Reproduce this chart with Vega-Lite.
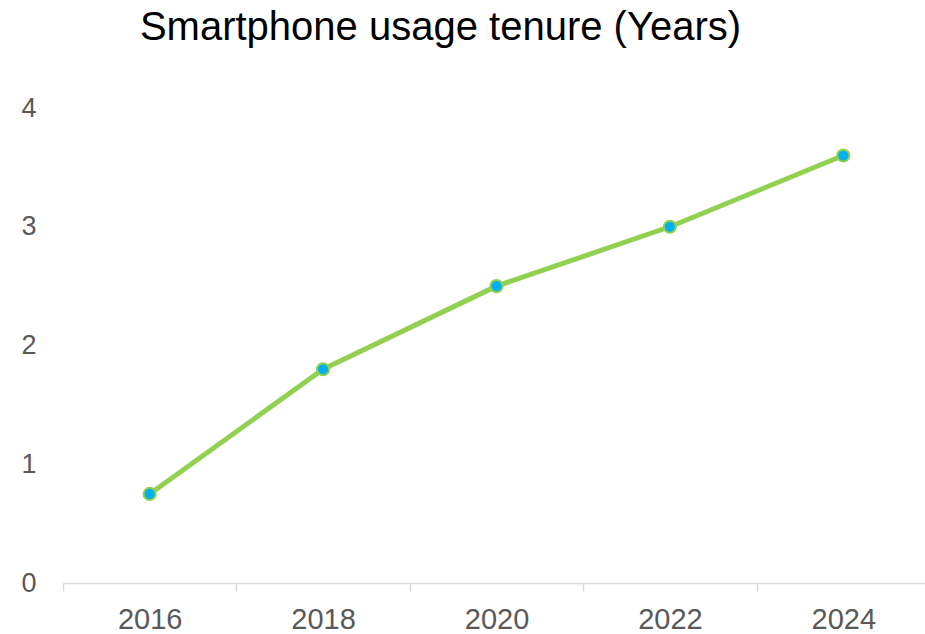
{
  "$schema": "https://vega.github.io/schema/vega-lite/v6.json",
  "width": 867,
  "height": 475,
  "autosize": "none",
  "padding": {"left": 63, "top": 108, "right": 0, "bottom": 51},
  "background": "white",
  "title": {
    "text": "Smartphone usage tenure (Years)",
    "font": "Liberation Sans",
    "fontSize": 40,
    "fontWeight": "normal",
    "color": "#000000",
    "anchor": "middle",
    "dx": -56,
    "offset": 46
  },
  "config": {"view": {"stroke": null}},
  "data": {
    "values": [
      {"year": "2016", "tenure": 0.75},
      {"year": "2018", "tenure": 1.8},
      {"year": "2020", "tenure": 2.5},
      {"year": "2022", "tenure": 3.0},
      {"year": "2024", "tenure": 3.6}
    ]
  },
  "encoding": {
    "x": {
      "field": "year",
      "type": "ordinal",
      "scale": {"paddingInner": 0, "paddingOuter": 0},
      "axis": {
        "title": null,
        "labelAngle": 0,
        "labelFont": "Liberation Sans",
        "labelFontSize": 29,
        "labelColor": "#595959",
        "labelPadding": 14,
        "domainColor": "#d9d9d9",
        "domainWidth": 1.5,
        "tickColor": "#d9d9d9",
        "tickWidth": 1.5,
        "tickSize": 8,
        "tickBand": "extent",
        "grid": false
      }
    },
    "y": {
      "field": "tenure",
      "type": "quantitative",
      "scale": {"domain": [0, 4]},
      "axis": {
        "title": null,
        "values": [0, 1, 2, 3, 4],
        "labelFont": "Liberation Sans",
        "labelFontSize": 27,
        "labelColor": "#595959",
        "labelPadding": 27,
        "domain": false,
        "ticks": false,
        "grid": false
      }
    }
  },
  "layer": [
    {"mark": {"type": "line", "color": "#92D050", "strokeWidth": 5}},
    {"mark": {"type": "point", "filled": true, "fill": "#00B0F0", "stroke": "#92D050", "strokeWidth": 2, "size": 150, "opacity": 1}}
  ]
}
